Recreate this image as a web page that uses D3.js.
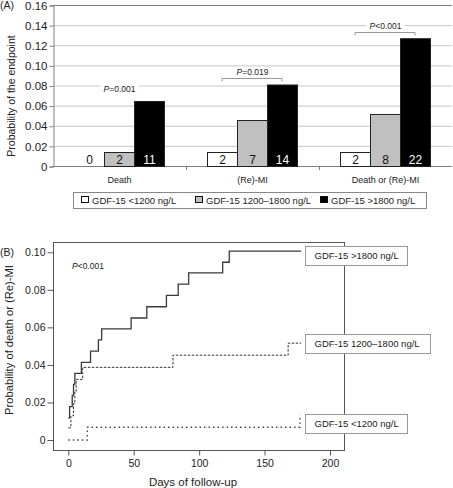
<!DOCTYPE html>
<html><head><meta charset="utf-8">
<script src="https://cdn.jsdelivr.net/npm/d3@7"></script>
<style>
body{margin:0;background:#fff;}
svg{display:block;font-family:"Liberation Sans",Arial,sans-serif;}
</style></head>
<body>
<svg id="c" width="453" height="488"></svg>
<script>
// ---------- Data: panel A ----------
const categories = ["Death", "(Re)-MI", "Death or (Re)-MI"];
const groups = ["GDF-15 <1200 ng/L", "GDF-15 1200\u20131800 ng/L", "GDF-15 >1800 ng/L"];
const probLow  = [0.0, 0.0139, 0.0139];
const probMid  = [0.0139, 0.0457, 0.0517];
const probHigh = [0.0646, 0.081, 0.127];
const countLow  = [0, 2, 2];
const countMid  = [2, 7, 8];
const countHigh = [11, 14, 22];
const pLabels = ["=0.001", "=0.019", "<0.001"];
const pBracket = [false, true, true];
const yTicksA = [0, 0.02, 0.04, 0.06, 0.08, 0.10, 0.12, 0.14, 0.16];
const yTickLabelsA = ["0", "0.02", "0.04", "0.06", "0.08", "0.10", "0.12", "0.14", "0.16"];

// ---------- Data: panel B (Kaplan-Meier steps: day, cumulative probability) ----------
const kmHighDays = [0, 1, 3, 4, 5, 10, 17, 23, 25.5, 48, 60, 75, 84, 92, 118, 123, 178];
const kmHighVals = [0.0118, 0.0178, 0.0237, 0.0296, 0.0355, 0.0414, 0.0473, 0.0533, 0.0592, 0.065, 0.071, 0.077, 0.083, 0.089, 0.0947, 0.1006, 0.1006];
const kmMidDays = [0, 2, 4, 5, 6, 11, 80, 168, 178];
const kmMidVals = [0.0065, 0.0129, 0.0194, 0.0258, 0.0323, 0.0387, 0.0452, 0.0516, 0.0516];
const kmLowDays = [0, 14.5, 177];
const kmLowVals = [0, 0.0068, 0.0135];
const kmLabels = ["GDF-15 >1800 ng/L", "GDF-15 1200\u20131800 ng/L", "GDF-15 <1200 ng/L"];
const xTicksB = [0, 50, 100, 150, 200];
const yTicksB = [0, 0.02, 0.04, 0.06, 0.08, 0.10];
const yTickLabelsB = ["0", "0.02", "0.04", "0.06", "0.08", "0.10"];

const svg = d3.select("#c");

// ================= PANEL A =================
const A = {left: 53, right: 452, top: 5, bottom: 166};
const yA = d3.scaleLinear().domain([0, 0.16]).range([A.bottom, A.top]);
const x0 = d3.scaleBand().domain(categories).range([A.left, A.right]);
const x1 = d3.scaleBand().domain(groups).range([21, 111]);

// gridlines
svg.append("g").selectAll("line").data(yTicksA.filter(t => t > 0 && t < 0.16)).join("line")
  .attr("x1", A.left).attr("x2", A.right)
  .attr("y1", d => yA(d) + 0.5).attr("y2", d => yA(d) + 0.5)
  .attr("stroke", "#c8c8c8").attr("stroke-width", 1);
// top line
svg.append("line").attr("x1", A.left).attr("x2", A.right)
  .attr("y1", yA(0.16) + 0.5).attr("y2", yA(0.16) + 0.5)
  .attr("stroke", "#808080");

// y-axis
const yAxisA = d3.axisLeft(yA).tickValues(yTicksA)
  .tickFormat((d, i) => yTickLabelsA[i]).tickSize(4).tickPadding(2);
const gYA = svg.append("g").attr("transform", `translate(${A.left + 0.5},0.5)`).call(yAxisA);
gYA.select(".domain").attr("stroke", "#808080");
gYA.selectAll(".tick line").attr("stroke", "#808080");
gYA.selectAll("text").attr("font-size", "11.5px").attr("fill", "#222")
  .attr("font-family", "'Liberation Sans',Arial,sans-serif");

// x-axis
svg.append("line").attr("x1", A.left).attr("x2", A.right)
  .attr("y1", A.bottom + 0.5).attr("y2", A.bottom + 0.5).attr("stroke", "#808080");
svg.append("g").selectAll("line").data(categories.slice(1)).join("line")
  .attr("x1", d => Math.round(x0(d)) + 0.5).attr("x2", d => Math.round(x0(d)) + 0.5)
  .attr("y1", A.bottom).attr("y2", A.bottom + 4).attr("stroke", "#808080");
svg.append("g").selectAll("text").data(categories).join("text")
  .attr("x", d => x0(d) + x0.bandwidth() / 2).attr("y", 183)
  .attr("text-anchor", "middle").attr("font-size", "9px").attr("fill", "#222")
  .text(d => d);

// bars
const fills = ["#ffffff", "#c0c0c0", "#000000"];
const series = [probLow, probMid, probHigh];
const counts = [countLow, countMid, countHigh];
const barData = [];
categories.forEach((c, ci) => groups.forEach((g, gi) => {
  barData.push({c, g, gi, v: series[gi][ci], n: counts[gi][ci]});
}));
svg.append("g").selectAll("rect").data(barData.filter(d => d.v > 0)).join("rect")
  .attr("x", d => x0(d.c) + x1(d.g) + 0.5)
  .attr("width", x1.bandwidth())
  .attr("y", d => yA(d.v) + 0.5)
  .attr("height", d => A.bottom - yA(d.v))
  .attr("fill", d => fills[d.gi]).attr("stroke", "#222").attr("stroke-width", 1);
svg.append("g").selectAll("text").data(barData).join("text")
  .attr("x", d => x0(d.c) + x1(d.g) + x1.bandwidth() / 2 + 0.5)
  .attr("y", A.bottom - 2.5)
  .attr("text-anchor", "middle").attr("font-size", "12px")
  .attr("fill", d => d.gi === 2 ? "#fff" : "#111")
  .text(d => d.n);

// P-value labels and brackets
categories.forEach((c, ci) => {
  const top = yA(probHigh[ci]);
  const cx = x0(c) + x0.bandwidth() / 2;
  const ty = top - 12;
  const t = svg.append("text").attr("x", cx).attr("y", ty + 3).attr("text-anchor", "middle")
    .attr("font-size", "8.5px").attr("fill", "#222");
  t.append("tspan").attr("font-style", "italic").text("P");
  t.append("tspan").text(pLabels[ci]);
  const bb = t.node().getBBox();
  svg.insert("rect", () => t.node()).attr("x", bb.x - 3).attr("y", bb.y).attr("width", bb.width + 6)
    .attr("height", bb.height).attr("fill", "#fff");
  if (pBracket[ci]) {
    const xa = x0(c) + x1(groups[0]) + x1.bandwidth() / 2;
    const xb = x0(c) + x1(groups[2]) + x1.bandwidth() / 2;
    const by = Math.round(top - 6) + 0.5;
    svg.append("path").attr("d", `M${xa},${by + 3}V${by}H${xb}V${by + 3}`)
      .attr("fill", "none").attr("stroke", "#999").attr("stroke-width", 1);
  }
});

// legend
const leg = svg.append("g");
leg.append("rect").attr("x", 73.5).attr("y", 192.5).attr("width", 353).attr("height", 16)
  .attr("fill", "#fff").attr("stroke", "#888");
const legX = [81, 195, 320];
groups.forEach((g, gi) => {
  leg.append("rect").attr("x", legX[gi] + 0.5).attr("y", 196.5).attr("width", 7).attr("height", 6)
    .attr("fill", fills[gi]).attr("stroke", "#111");
  leg.append("text").attr("x", legX[gi] + 11).attr("y", 203.5).attr("font-size", "9.5px")
    .attr("fill", "#222").text(g);
});

// labels
svg.append("text").attr("x", 0).attr("y", 9).attr("font-size", "10.5px").attr("fill", "#222").text("(A)");
svg.append("text").attr("transform", `translate(15,96) rotate(-90)`).attr("text-anchor", "middle")
  .attr("font-size", "10.5px").attr("fill", "#222").text("Probability of the endpoint");

// ================= PANEL B =================
const B = {left: 53, right: 344, top: 242, bottom: 450};
const xB = d3.scaleLinear().domain([0, 200]).range([68.3, 330]);
const yB = d3.scaleLinear().domain([0, 0.10]).range([440, 252.3]);

// frame
svg.append("rect").attr("x", B.left + 0.5).attr("y", B.top + 0.5)
  .attr("width", B.right - B.left).attr("height", B.bottom - B.top)
  .attr("fill", "none").attr("stroke", "#555");

const gYB = svg.append("g").attr("transform", `translate(${B.left + 0.5},0)`)
  .call(d3.axisLeft(yB).tickValues(yTicksB).tickFormat((d, i) => yTickLabelsB[i]).tickSize(6).tickPadding(2));
gYB.select(".domain").remove();
gYB.selectAll(".tick line").attr("stroke", "#555");
gYB.selectAll("text").attr("font-size", "10.5px").attr("fill", "#222")
  .attr("font-family", "'Liberation Sans',Arial,sans-serif");

const gXB = svg.append("g").attr("transform", `translate(0,${B.bottom + 0.5})`)
  .call(d3.axisBottom(xB).tickValues(xTicksB).tickSize(5).tickPadding(4));
gXB.select(".domain").remove();
gXB.selectAll(".tick line").attr("stroke", "#555");
gXB.selectAll("text").attr("font-size", "10.5px").attr("fill", "#222")
  .attr("font-family", "'Liberation Sans',Arial,sans-serif");

// KM curves
const stepLine = d3.line().x(d => xB(d[0])).y(d => yB(d[1])).curve(d3.curveStepAfter);
const kmSeries = [
  {days: kmHighDays, vals: kmHighVals, dash: null, w: 1.3, col: "#3a3a3a"},
  {days: kmMidDays, vals: kmMidVals, dash: "2.5,1.5", w: 1, col: "#333"},
  {days: kmLowDays, vals: kmLowVals, dash: "1.5,3", w: 1.3, col: "#444"}
];
kmSeries.forEach(s => {
  const pts = s.days.map((d, i) => [d, s.vals[i]]);
  svg.append("path").attr("d", stepLine(pts)).attr("fill", "none")
    .attr("stroke", s.col).attr("stroke-width", s.w)
    .attr("stroke-dasharray", s.dash);
});

// label boxes
const boxY = [kmHighVals[kmHighVals.length - 1], kmMidVals[kmMidVals.length - 1], kmLowVals[kmLowVals.length - 1]];
const boxOff = [-0.0023, -0.0003, -0.0045];
const boxW = [102, 125, 102];
kmLabels.forEach((l, i) => {
  const cy = yB(boxY[i] + boxOff[i]);
  svg.append("rect").attr("x", 305.5).attr("y", Math.round(cy - 9.5) + 0.5).attr("width", boxW[i]).attr("height", 19)
    .attr("fill", "#fff").attr("stroke", "#999");
  svg.append("text").attr("x", 314.5).attr("y", cy + 3.5).attr("font-size", "9.5px").attr("fill", "#222").text(l);
});

const pt = svg.append("text").attr("x", 72).attr("y", 269).attr("font-size", "8.5px").attr("fill", "#222");
pt.append("tspan").attr("font-style", "italic").text("P");
pt.append("tspan").text("<0.001");

svg.append("text").attr("x", 0).attr("y", 256).attr("font-size", "10.5px").attr("fill", "#222").text("(B)");
svg.append("text").attr("transform", `translate(13,340) rotate(-90)`).attr("text-anchor", "middle")
  .attr("font-size", "11.2px").attr("fill", "#222").text("Probability of death or (Re)-MI");
svg.append("text").attr("x", 193).attr("y", 485.5).attr("text-anchor", "middle")
  .attr("font-size", "11.5px").attr("fill", "#222").text("Days of follow-up");
</script>
</body></html>
